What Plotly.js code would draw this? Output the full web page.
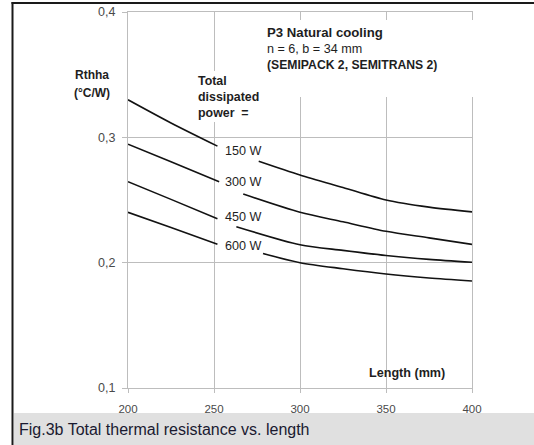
<!DOCTYPE html>
<html>
<head>
<meta charset="utf-8">
<script src="https://cdn.plot.ly/plotly-3.0.1.min.js"></script>
<style>
  html, body { margin: 0; padding: 0; background: #ffffff; }
  #chart { width: 534px; height: 445px; }
</style>
</head>
<body>
<div id="chart"></div>
<script>
// Heatsink length (mm) and total thermal resistance Rthha (°C/W),
// one curve per total dissipated power. null marks the break left for the curve label.
const powerLabels = ['150 W', '300 W', '450 W', '600 W'];

const length150 = [200, 225, 252, null, 276, 300, 325, 350, 375, 400];
const rth150    = [0.330, 0.3115, 0.293, null, 0.281, 0.270, 0.260, 0.250, 0.2443, 0.2405];

const length300 = [200, 225, 253, null, 267, 300, 325, 350, 375, 400];
const rth300    = [0.2945, 0.2805, 0.2645, null, 0.2547, 0.2402, 0.2326, 0.2250, 0.2198, 0.2146];

const length450 = [200, 225, 252, null, 263, 300, 325, 350, 375, 400];
const rth450    = [0.2646, 0.2505, 0.235, null, 0.2287, 0.2143, 0.2098, 0.2057, 0.2026, 0.2003];

const length600 = [200, 225, 252, null, 278.5, 300, 325, 350, 375, 400];
const rth600    = [0.2402, 0.228, 0.2147, null, 0.2073, 0.2000, 0.1952, 0.1910, 0.1878, 0.1854];

const xTickVals = [200, 250, 300, 350, 400];
const xTickText = ['200', '250', '300', '350', '400'];
const yTickVals = [0.1, 0.2, 0.3, 0.4];
const yTickText = ['0,1', '0,2', '0,3', '0,4'];

const seriesX = [length150, length300, length450, length600];
const seriesY = [rth150, rth300, rth450, rth600];

// Plot-area geometry in page pixels
const FIG_W = 534, FIG_H = 445;
const M = { l: 128, r: 62, t: 12, b: 57 };
const PW = FIG_W - M.l - M.r;
const PH = FIG_H - M.t - M.b;
const fx = p => (p - M.l) / PW;          // page x -> paper x
const fy = p => (M.t + PH - p) / PH;     // page y -> paper y

const FONT = '"Liberation Sans", Arial, Helvetica, sans-serif';
const GRID = '#bdbdbd';

const traces = seriesX.map((xs, i) => ({
  type: 'scatter',
  mode: 'lines',
  x: xs,
  y: seriesY[i],
  name: powerLabels[i],
  connectgaps: false,
  line: { color: '#121212', width: 1.6, shape: 'spline', smoothing: 0.8 },
  hoverinfo: 'skip'
}));

function note(text, px, py, size, opts) {
  return Object.assign({
    text: text,
    xref: 'paper', yref: 'paper',
    x: fx(px), y: fy(py),
    xanchor: 'left', yanchor: 'middle',
    showarrow: false,
    borderpad: 0,
    align: 'left',
    font: { family: FONT, size: size, color: '#1e1e1e' }
  }, opts || {});
}

const labelRows = [150.7, 182.3, 216.7, 245.7];

const annotations = [
  note('<b>P3 Natural cooling</b>', 266, 32.3, 13.2),
  note('n = 6, b = 34 mm', 266, 49, 12.6),
  note('<b>(SEMIPACK 2, SEMITRANS 2)</b>', 266, 65, 12.2),
  note('<b>Total<br>dissipated<br>power\u00a0 =</b>', 197, 96.5, 12.4),
  note('<b>Rthha</b>', 92, 75, 12, { xanchor: 'center' }),
  note('<b>(°C/W)</b>', 92, 92.7, 12, { xanchor: 'center' }),
  note('<b>Length (mm)</b>', 407, 373, 12.6, { xanchor: 'center' }),
  note('Fig.3b Total thermal resistance vs. length', 18, 429, 16, {
    font: { family: FONT, size: 16, color: '#1a1a30' }
  })
].concat(powerLabels.map((t, i) => note(t, 224, labelRows[i], 12.6)));

const shapes = [
  // caption band
  { type: 'rect', xref: 'paper', yref: 'paper', layer: 'below',
    x0: fx(14), x1: fx(FIG_W + 2), y0: fy(413), y1: fy(FIG_H + 2),
    fillcolor: '#e0e0e0', line: { width: 0 } },
  // white backing behind the heading block and the power caption
  { type: 'rect', xref: 'paper', yref: 'paper', layer: 'above',
    x0: fx(258), x1: fx(482), y0: fy(97), y1: fy(20),
    fillcolor: '#ffffff', line: { width: 0 } },
  { type: 'rect', xref: 'paper', yref: 'paper', layer: 'above',
    x0: fx(195), x1: fx(266), y0: fy(122), y1: fy(71),
    fillcolor: '#ffffff', line: { width: 0 } },
  // outer frame: left and top rules
  { type: 'line', xref: 'paper', yref: 'paper', layer: 'above',
    x0: fx(12.5), x1: fx(12.5), y0: fy(2), y1: fy(FIG_H + 2),
    line: { color: '#1a1a1a', width: 2 } },
  { type: 'line', xref: 'paper', yref: 'paper', layer: 'above',
    x0: fx(11.5), x1: fx(FIG_W + 2), y0: fy(3), y1: fy(3),
    line: { color: '#1a1a1a', width: 2 } }
];

const layout = {
  width: FIG_W,
  height: FIG_H,
  margin: M,
  paper_bgcolor: '#ffffff',
  plot_bgcolor: '#ffffff',
  showlegend: false,
  font: { family: FONT, color: '#4a4a4a' },
  xaxis: {
    range: [200, 400],
    tickvals: xTickVals,
    ticktext: xTickText,
    ticks: 'outside', ticklen: 4, tickcolor: GRID, tickwidth: 1,
    tickfont: { family: FONT, size: 11.5, color: '#4a4a4a' },
    ticklabelstandoff: 6,
    showgrid: true, gridcolor: GRID, gridwidth: 1,
    showline: true, linecolor: GRID, linewidth: 1, mirror: true,
    zeroline: false, fixedrange: true
  },
  yaxis: {
    range: [0.1, 0.4],
    tickvals: yTickVals,
    ticktext: yTickText,
    ticks: 'outside', ticklen: 5, tickcolor: GRID, tickwidth: 1,
    tickfont: { family: FONT, size: 12.5, color: '#4a4a4a' },
    ticklabelstandoff: 4,
    showgrid: true, gridcolor: GRID, gridwidth: 1,
    showline: true, linecolor: GRID, linewidth: 1, mirror: true,
    zeroline: false, fixedrange: true
  },
  annotations: annotations,
  shapes: shapes
};

Plotly.newPlot('chart', traces, layout, { staticPlot: true, displayModeBar: false });
</script>
</body>
</html>
